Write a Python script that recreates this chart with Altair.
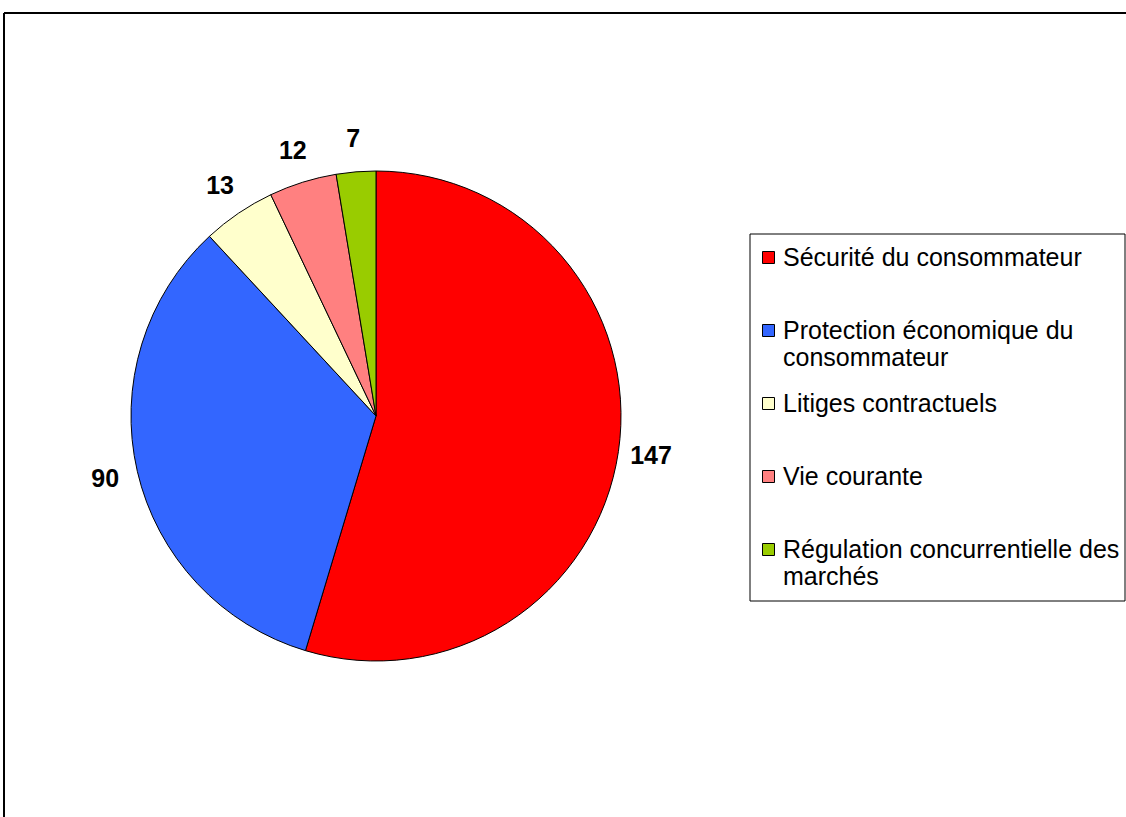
import altair as alt
import pandas as pd

categories = [
    "Sécurité du consommateur",
    "Protection économique du consommateur",
    "Litiges contractuels",
    "Vie courante",
    "Régulation concurrentielle des marchés",
]
values = [147, 90, 13, 12, 7]
colors = ["#FF0000", "#3366FF", "#FFFFCC", "#FF8080", "#99CC00"]

df = pd.DataFrame({"cat": categories, "val": values, "order": list(range(len(values)))})
one = pd.DataFrame({"k": [0]})

FONT = "Liberation Sans"
CX, CY = 372, 403
W, H = 1122, 804

label_expr = (
    "datum.label == 'Protection économique du consommateur' ? ['Protection économique du', 'consommateur'] : "
    "datum.label == 'Régulation concurrentielle des marchés' ? ['Régulation concurrentielle des', 'marchés'] : datum.label"
)

# outer frame (top and left edges visible)
frame_top = alt.Chart(one).mark_rule(color="black", strokeWidth=2).encode(
    x=alt.value(0), x2=alt.value(W + 10), y=alt.value(0)
)
frame_left = alt.Chart(one).mark_rule(color="black", strokeWidth=2).encode(
    x=alt.value(0), y=alt.value(0), y2=alt.value(H + 10)
)

# legend box
legend_box = alt.Chart(one).mark_rect(fill="white", stroke="black", strokeWidth=1).encode(
    x=alt.value(746), x2=alt.value(1121), y=alt.value(221), y2=alt.value(588)
)

base = alt.Chart(df).encode(
    theta=alt.Theta("val:Q", stack=True),
    order=alt.Order("order:Q"),
)

pie = base.mark_arc(stroke="black", strokeWidth=1, outerRadius=245).encode(
    x=alt.value(CX),
    y=alt.value(CY),
    color=alt.Color(
        "cat:N",
        sort=categories,
        scale=alt.Scale(domain=categories, range=colors),
        legend=alt.Legend(
            title=None,
            orient="none",
            legendX=742,
            legendY=222,
            symbolType="square",
            symbolSize=144,
            symbolStrokeColor="black",
            symbolStrokeWidth=1,
            symbolOpacity=1,
            labelFont=FONT,
            labelFontSize=25,
            labelColor="black",
            labelLimit=500,
            labelExpr=label_expr,
            labelOffset=2,
            gridAlign="all",
            rowPadding=20,
            padding=10,
        ),
    ),
)

labels = base.mark_text(radius=278, font=FONT, fontSize=25, fontWeight="bold", color="black").encode(
    x=alt.value(CX),
    y=alt.value(CY),
    text="val:Q",
)

chart = (
    alt.layer(frame_top, frame_left, legend_box, pie, labels)
    .properties(
        width=W,
        height=H,
        padding={"left": 4, "top": 13, "right": 0, "bottom": 0},
        autosize=alt.AutoSizeParams(type="none"),
        background="white",
    )
    .configure_view(stroke=None)
)

chart.save("out.html", embed_options={"renderer": "svg", "actions": False})
